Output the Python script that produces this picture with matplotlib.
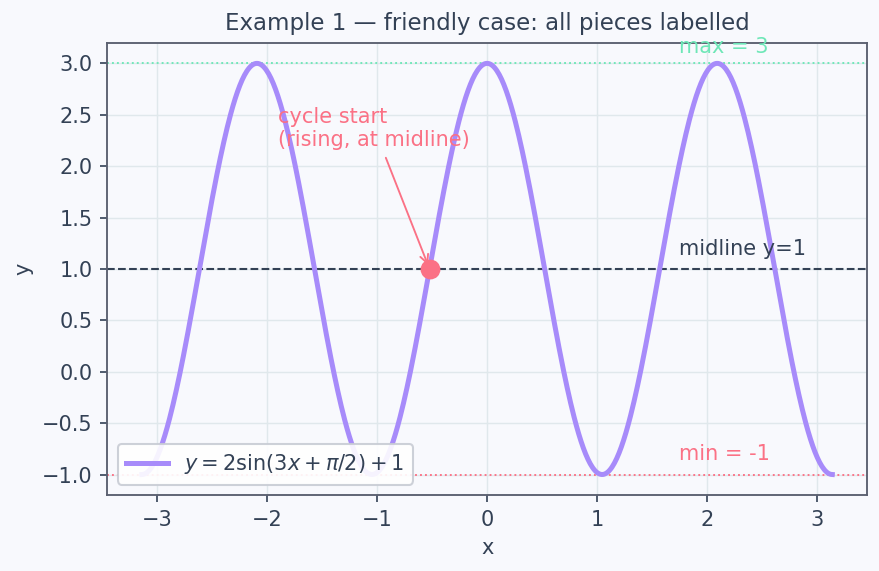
import matplotlib
matplotlib.use("Agg")
import matplotlib.pyplot as plt
import numpy as np

# y = A sin(B x + C) + D
AMP = 2
FREQ = 3
PHASE = np.pi / 2
SHIFT = 1
X_RANGE = [-np.pi, np.pi]
N_POINTS = 600

MAX_VAL = 3
MIN_VAL = -1
MIDLINE = 1
CYCLE_START = [-np.pi / 6, 1]

TITLE = "Example 1 \u2014 friendly case: all pieces labelled"
LEGEND_LABEL = r"$y = 2\sin(3x + \pi/2) + 1$"

TEXT = "#334155"
CURVE = "#a78bfa"
ROSE = "#fb7185"
GREEN = "#6ee7b7"
BG = "#f8f9fd"

DPI = 150
plt.rcParams["font.size"] = 10
plt.rcParams["text.color"] = TEXT
plt.rcParams["axes.labelcolor"] = TEXT
plt.rcParams["xtick.color"] = TEXT
plt.rcParams["ytick.color"] = TEXT


def main():
    x = np.linspace(X_RANGE[0], X_RANGE[1], N_POINTS)
    y = AMP * np.sin(FREQ * x + PHASE) + SHIFT

    fig, ax = plt.subplots(figsize=(880 / DPI, 571 / DPI), dpi=DPI)
    fig.patch.set_facecolor(BG)
    ax.set_facecolor(BG)

    ax.plot(x, y, color=CURVE, linewidth=2.4, label=LEGEND_LABEL, zorder=3)
    ax.axhline(MIDLINE, color=TEXT, linestyle="--", linewidth=1.0, zorder=2)
    ax.axhline(MAX_VAL, color=GREEN, linestyle=":", linewidth=0.9, zorder=2)
    ax.axhline(MIN_VAL, color=ROSE, linestyle=":", linewidth=0.9, zorder=2)

    ax.text(1.75, MAX_VAL + 0.06, f"max = {MAX_VAL}", color=GREEN, va="bottom")
    ax.text(1.75, MIDLINE + 0.1, f"midline y={MIDLINE}", color=TEXT, va="bottom")
    ax.text(1.75, MIN_VAL + 0.1, f"min = {MIN_VAL}", color=ROSE, va="bottom")

    ax.plot(*CYCLE_START, "o", color=ROSE, markersize=8.5, zorder=4)
    ax.annotate("cycle start\n(rising, at midline)", xy=CYCLE_START,
                xytext=(-1.9, 2.16), color=ROSE, ha="left", va="bottom",
                arrowprops=dict(arrowstyle="->", color=ROSE, lw=0.9))

    ax.grid(True, color="#e0e8ec", linewidth=0.7)
    ax.set_axisbelow(True)
    for s in ax.spines.values():
        s.set_color("#5b6070")
        s.set_linewidth(0.9)

    ax.set_title(TITLE, fontsize=11, color=TEXT)
    ax.set_xlabel("x")
    ax.set_ylabel("y")
    ax.legend(loc="lower left", fontsize=10, facecolor="white", framealpha=0.9,
              edgecolor="#c8ccd4")

    fig.subplots_adjust(left=0.122, right=0.985, top=0.925, bottom=0.133)
    fig.savefig("out.png", dpi=DPI, facecolor=BG)
    plt.close(fig)


if __name__ == "__main__":
    main()
